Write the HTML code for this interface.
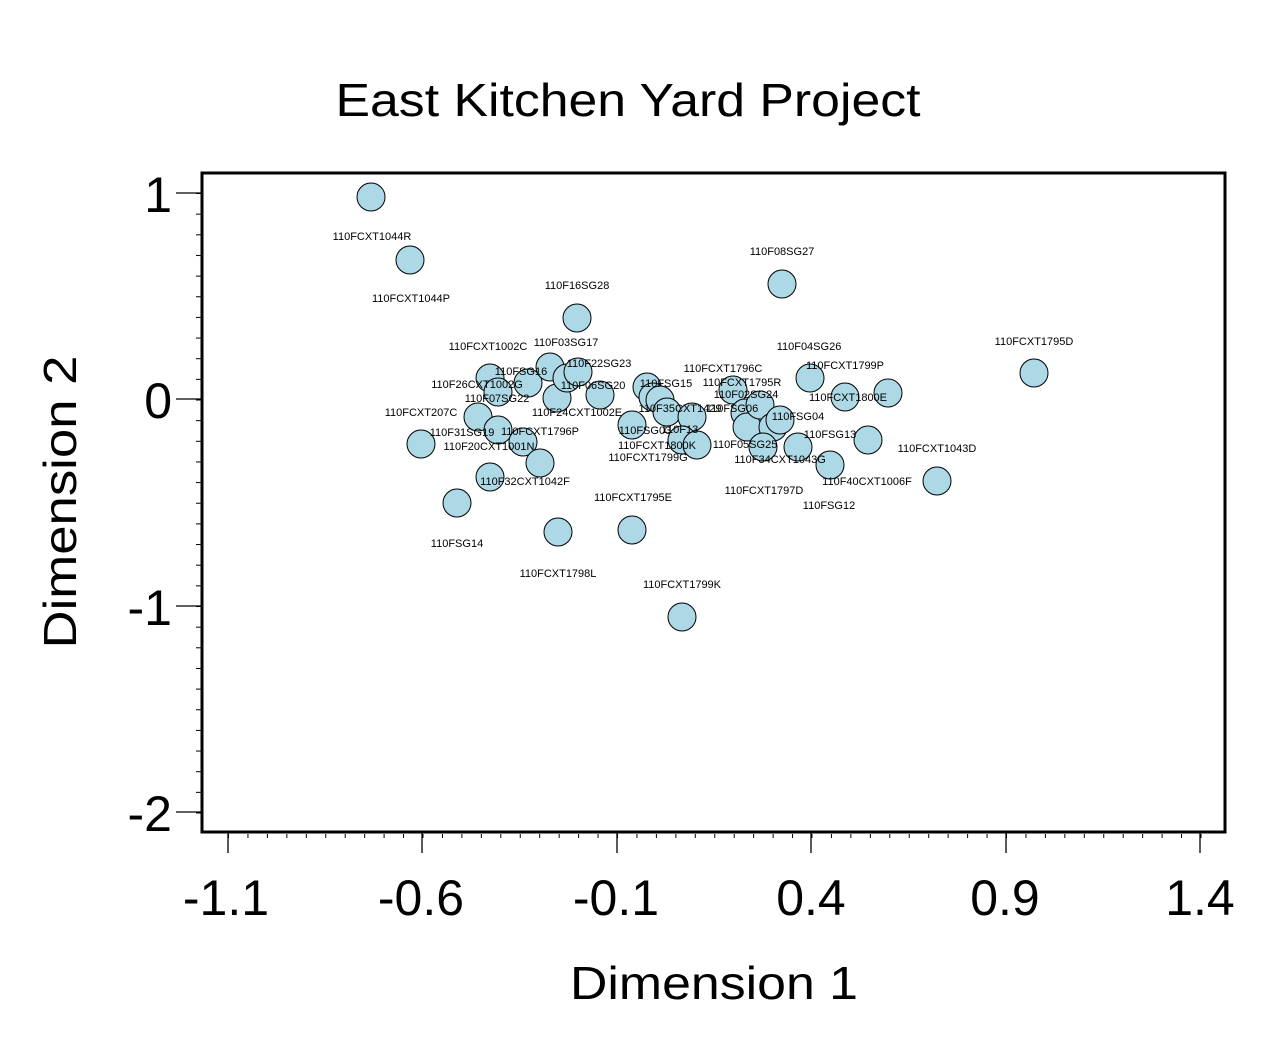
<!DOCTYPE html>
<html><head><meta charset="utf-8"><style>
html,body{margin:0;padding:0;background:#fff;}
svg{display:block;}
.l{font-family:"Liberation Sans",sans-serif;font-size:11px;fill:#000;text-anchor:middle;}
.t{font-family:"Liberation Sans",sans-serif;font-size:46px;fill:#000;}
.k{font-family:"Liberation Sans",sans-serif;font-size:50px;fill:#000;}
</style></head><body>
<svg width="1288" height="1040" viewBox="0 0 1288 1040" xmlns="http://www.w3.org/2000/svg">
<defs>
<pattern id="mx" x="228" y="0" width="19.45" height="10" patternUnits="userSpaceOnUse"><rect x="0" y="0" width="1" height="10" fill="#000"/></pattern>
<pattern id="my" x="0" y="193" width="10" height="20.65" patternUnits="userSpaceOnUse"><rect x="0" y="0" width="10" height="1" fill="#000"/></pattern>
</defs>
<text x="628" y="116" class="t" font-size="50" text-anchor="middle" textLength="585" lengthAdjust="spacingAndGlyphs">East Kitchen Yard Project</text>
<rect x="228" y="834" width="974" height="4" fill="url(#mx)"/>
<rect x="196" y="193" width="5" height="621" fill="url(#my)"/>
<g stroke="#000" stroke-width="1.3">
<line x1="228" y1="833" x2="228" y2="853"/><line x1="422" y1="833" x2="422" y2="853"/><line x1="617" y1="833" x2="617" y2="853"/><line x1="811" y1="833" x2="811" y2="853"/><line x1="1006" y1="833" x2="1006" y2="853"/><line x1="1200" y1="833" x2="1200" y2="853"/>
<line x1="176" y1="193" x2="201" y2="193"/><line x1="176" y1="399" x2="201" y2="399"/><line x1="176" y1="606" x2="201" y2="606"/><line x1="176" y1="812" x2="201" y2="812"/>
</g>
<rect x="202" y="173" width="1023" height="659" fill="none" stroke="#000" stroke-width="3"/>
<g class="k">
<text x="172" y="212" text-anchor="end">1</text>
<text x="172" y="418" text-anchor="end">0</text>
<text x="172" y="625" text-anchor="end">-1</text>
<text x="172" y="831" text-anchor="end">-2</text>
</g>
<g class="k">
<text x="226" y="915" text-anchor="middle">-1.1</text>
<text x="421" y="915" text-anchor="middle">-0.6</text>
<text x="616" y="915" text-anchor="middle">-0.1</text>
<text x="811" y="915" text-anchor="middle">0.4</text>
<text x="1005" y="915" text-anchor="middle">0.9</text>
<text x="1200" y="915" text-anchor="middle">1.4</text>
</g>
<text x="714" y="999" class="t" text-anchor="middle" textLength="288" lengthAdjust="spacingAndGlyphs">Dimension 1</text>
<text x="0" y="0" class="t" text-anchor="middle" textLength="293" lengthAdjust="spacingAndGlyphs" transform="translate(76,502) rotate(-90)">Dimension 2</text>
<g fill="#add8e6" stroke="#000" stroke-width="1">
<circle cx="371" cy="197" r="14"/><circle cx="410" cy="260" r="14"/><circle cx="577" cy="318" r="14"/><circle cx="782" cy="284" r="14"/><circle cx="1034" cy="373" r="14"/><circle cx="937" cy="481" r="14"/><circle cx="457" cy="503" r="14"/><circle cx="558" cy="532" r="14"/><circle cx="632" cy="530" r="14"/><circle cx="682" cy="617" r="14"/><circle cx="421" cy="444" r="14"/>
<circle cx="490" cy="378" r="14"/><circle cx="498" cy="392" r="14"/><circle cx="528" cy="383" r="14"/><circle cx="550" cy="367" r="14"/><circle cx="557" cy="398" r="14"/><circle cx="567" cy="378" r="14"/><circle cx="578" cy="372" r="14"/><circle cx="600" cy="395" r="14"/><circle cx="478" cy="417" r="14"/><circle cx="498" cy="430" r="14"/><circle cx="523" cy="442" r="14"/><circle cx="540" cy="463" r="14"/><circle cx="490" cy="477" r="14"/>
<circle cx="632" cy="425" r="14"/><circle cx="647" cy="387" r="14"/><circle cx="653" cy="397" r="14"/><circle cx="660" cy="400" r="14"/><circle cx="667" cy="412" r="14"/><circle cx="692" cy="417" r="14"/><circle cx="682" cy="440" r="14"/><circle cx="697" cy="445" r="14"/>
<circle cx="733" cy="390" r="14"/><circle cx="745" cy="413" r="14"/><circle cx="747" cy="427" r="14"/><circle cx="760" cy="405" r="14"/><circle cx="773" cy="427" r="14"/><circle cx="780" cy="420" r="14"/><circle cx="763" cy="447" r="14"/><circle cx="798" cy="447" r="14"/><circle cx="810" cy="378" r="14"/><circle cx="845" cy="397" r="14"/><circle cx="888" cy="393" r="14"/><circle cx="868" cy="440" r="14"/><circle cx="830" cy="465" r="14"/>
</g>
<g class="l">
<text x="372" y="240">110FCXT1044R</text><text x="411" y="302">110FCXT1044P</text><text x="782" y="255">110F08SG27</text><text x="577" y="289">110F16SG28</text><text x="1034" y="345">110FCXT1795D</text><text x="809" y="350">110F04SG26</text><text x="488" y="350">110FCXT1002C</text><text x="566" y="346">110F03SG17</text><text x="599" y="367">110F22SG23</text><text x="723" y="372">110FCXT1796C</text><text x="845" y="369">110FCXT1799P</text><text x="521" y="375">110FSG16</text><text x="742" y="386">110FCXT1795R</text><text x="477" y="388">110F26CXT1002G</text><text x="593" y="389">110F06SG20</text><text x="666" y="387">110FSG15</text><text x="746" y="398">110F02SG24</text><text x="497" y="402">110F07SG22</text><text x="848" y="401">110FCXT1800E</text><text x="680" y="412">110F35CXT1429</text><text x="732" y="412">110FSG06</text><text x="421" y="416">110FCXT207C</text><text x="577" y="416">110F24CXT1002E</text><text x="798" y="420">110FSG04</text><text x="462" y="436">110F31SG19</text><text x="540" y="435">110FCXT1796P</text><text x="645" y="434">110FSG03</text><text x="680" y="433">110F13</text><text x="830" y="438">110FSG13</text><text x="489" y="450">110F20CXT1001N</text><text x="657" y="449">110FCXT1800K</text><text x="745" y="448">110F05SG25</text><text x="937" y="452">110FCXT1043D</text><text x="648" y="461">110FCXT1799G</text><text x="780" y="463">110F34CXT1043G</text><text x="525" y="485">110F32CXT1042F</text><text x="867" y="485">110F40CXT1006F</text><text x="633" y="501">110FCXT1795E</text><text x="764" y="494">110FCXT1797D</text><text x="829" y="509">110FSG12</text><text x="457" y="547">110FSG14</text><text x="558" y="577">110FCXT1798L</text><text x="682" y="588">110FCXT1799K</text>
</g>
</svg>
</body></html>
